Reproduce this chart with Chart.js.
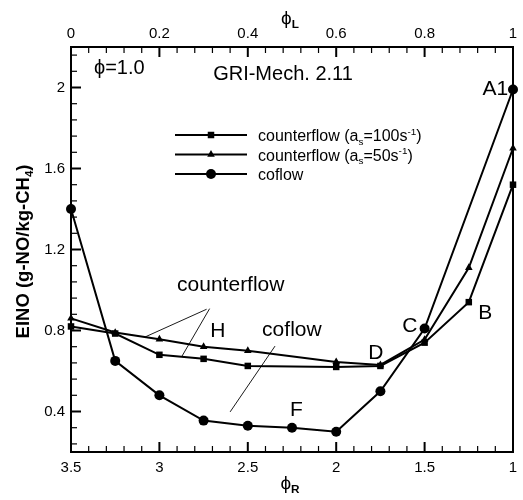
<!DOCTYPE html>
<html>
<head>
<meta charset="utf-8">
<script src="https://cdn.jsdelivr.net/npm/chart.js@4.4.1/dist/chart.umd.min.js"></script>
<style>
  html, body { margin: 0; padding: 0; background: #ffffff; }
  #wrap { width: 523px; height: 500px; }
</style>
</head>
<body>
<div id="wrap"><canvas id="c" width="523" height="500"></canvas></div>
<script>
// ---- data: EINO vs. rich-side equivalence ratio ----
const phiRCoflow      = [3.5, 3.25, 3.0, 2.75, 2.5, 2.25, 2.0, 1.75, 1.5, 1.0];
const einoCoflow      = [1.40, 0.65, 0.48, 0.355, 0.33, 0.32, 0.30, 0.50, 0.81, 1.99];

const phiRCounter     = [3.5, 3.25, 3.0, 2.75, 2.5, 2.0, 1.75, 1.5, 1.25, 1.0];
const einoCounter100  = [0.82, 0.785, 0.68, 0.66, 0.625, 0.62, 0.625, 0.74, 0.94, 1.52];
const einoCounter50   = [0.86, 0.79, 0.757, 0.72, 0.70, 0.645, 0.63, 0.755, 1.11, 1.70];

// ---- axis tick values ----
const phiRTicks = [1, 1.5, 2, 2.5, 3, 3.5];
const phiLTicks = [0, 0.2, 0.4, 0.6, 0.8, 1];
const einoTicks = [0.4, 0.8, 1.2, 1.6, 2];

const FONT = 'Arial, "Liberation Sans", Helvetica, sans-serif';

function pts(xs, ys) { return xs.map((x, i) => ({ x: x, y: ys[i] })); }

// in-plot text labels and leader lines, in data units (phi_R, EINO)
const notes = [
  { text: 'ϕ=1.0',          x: 3.37,  y: 2.069, size: 20 },
  { text: 'GRI-Mech. 2.11', x: 2.696, y: 2.037, size: 20 },
  { text: 'A1',             x: 1.027, y: 1.963, size: 21, align: 'right' },
  { text: 'counterflow',    x: 2.90,  y: 0.997, size: 21 },
  { text: 'H',              x: 2.713, y: 0.768, size: 21 },
  { text: 'coflow',         x: 2.419, y: 0.773, size: 21 },
  { text: 'C',              x: 1.627, y: 0.795, size: 21 },
  { text: 'D',              x: 1.819, y: 0.659, size: 21 },
  { text: 'B',              x: 1.197, y: 0.857, size: 21 },
  { text: 'F',              x: 2.261, y: 0.379, size: 21 }
];
const leaders = [
  [2.733, 0.905, 3.081, 0.768],
  [2.716, 0.908, 2.873, 0.672],
  [2.346, 0.723, 2.600, 0.398]
];

function drawRich(ctx, parts, x, y, size, align, bold) {
  let total = 0;
  parts.forEach(p => {
    const s = p.s ? size * 0.62 : size;
    p._f = ((bold || p.b) ? 'bold ' : '') + s + 'px ' + FONT;
    ctx.font = p._f;
    p._w = ctx.measureText(p.t).width;
    total += p._w;
  });
  let cx = align === 'center' ? x - total / 2 : (align === 'right' ? x - total : x);
  ctx.textAlign = 'left';
  ctx.textBaseline = 'alphabetic';
  parts.forEach(p => {
    ctx.font = p._f;
    let dy = 0;
    if (p.s === 'sub') dy = size * 0.22;
    if (p.s === 'sup') dy = -size * 0.38;
    ctx.fillText(p.t, cx, y + dy);
    cx += p._w;
  });
  return total;
}

function drawMarker(ctx, style, x, y, r) {
  ctx.beginPath();
  if (style === 'circle') {
    ctx.arc(x, y, r, 0, Math.PI * 2);
  } else if (style === 'rect') {
    const h = r * Math.SQRT1_2;
    ctx.rect(x - h, y - h, 2 * h, 2 * h);
  } else {
    const side = r * 3 / Math.sqrt(3);
    const height = side * Math.sqrt(3) / 2;
    ctx.moveTo(x, y - height * 2 / 3);
    ctx.lineTo(x + side / 2, y + height / 3);
    ctx.lineTo(x - side / 2, y + height / 3);
    ctx.closePath();
  }
  ctx.fill();
}

const decor = {
  id: 'decor',
  afterDraw(chart) {
    const ctx = chart.ctx;
    const a = chart.chartArea;
    const sx = chart.scales.x, sx2 = chart.scales.x2, sy = chart.scales.y;
    ctx.save();
    ctx.strokeStyle = '#000';
    ctx.fillStyle = '#000';

    // frame
    ctx.lineWidth = 2;
    ctx.strokeRect(a.left, a.top, a.right - a.left, a.bottom - a.top);

    // inward ticks: major + four minor per interval
    function tickSet(vals) {
      const sorted = vals.slice().sort((p, q) => p - q);
      const minors = [];
      for (let i = 0; i < sorted.length - 1; i++) {
        const st = (sorted[i + 1] - sorted[i]) / 5;
        for (let k = 1; k < 5; k++) minors.push(sorted[i] + k * st);
      }
      return { majors: sorted, minors: minors };
    }
    function hTicks(scale, vals, edge, dir) {
      const t = tickSet(vals);
      ctx.lineWidth = 1.2;
      t.minors.forEach(v => {
        const p = scale.getPixelForValue(v);
        if (p < a.left + 1 || p > a.right - 1) return;
        ctx.beginPath(); ctx.moveTo(p, edge); ctx.lineTo(p, edge + dir * 6); ctx.stroke();
      });
      ctx.lineWidth = 2;
      t.majors.forEach(v => {
        const p = scale.getPixelForValue(v);
        if (p < a.left + 1 || p > a.right - 1) return;
        ctx.beginPath(); ctx.moveTo(p, edge); ctx.lineTo(p, edge + dir * 10); ctx.stroke();
      });
    }
    hTicks(sx, phiRTicks, a.bottom, -1);
    hTicks(sx2, phiLTicks, a.top, 1);

    // y ticks, extended a step beyond the labelled range
    const yAll = [0.24, 0.32].concat(tickSet(einoTicks).minors, [2.08, 2.16]);
    ctx.lineWidth = 1.2;
    yAll.forEach(v => {
      const p = sy.getPixelForValue(v);
      ctx.beginPath(); ctx.moveTo(a.left, p); ctx.lineTo(a.left + 6, p); ctx.stroke();
    });
    ctx.lineWidth = 2;
    einoTicks.forEach(v => {
      const p = sy.getPixelForValue(v);
      ctx.beginPath(); ctx.moveTo(a.left, p); ctx.lineTo(a.left + 10, p); ctx.stroke();
    });

    // leader lines
    ctx.lineWidth = 0.9;
    leaders.forEach(l => {
      ctx.beginPath();
      ctx.moveTo(sx.getPixelForValue(l[0]), sy.getPixelForValue(l[1]));
      ctx.lineTo(sx.getPixelForValue(l[2]), sy.getPixelForValue(l[3]));
      ctx.stroke();
    });

    // text labels
    notes.forEach(n => {
      drawRich(ctx, [{ t: n.text }], sx.getPixelForValue(n.x), sy.getPixelForValue(n.y), n.size, n.align || 'left');
    });

    // legend
    const lg = [
      { style: 'rect', r: 4.6, parts: [{ t: 'counterflow (a' }, { t: 's', s: 'sub' }, { t: '=100s' }, { t: '-1', s: 'sup' }, { t: ')' }] },
      { style: 'triangle', r: 4.4, parts: [{ t: 'counterflow (a' }, { t: 's', s: 'sub' }, { t: '=50s' }, { t: '-1', s: 'sup' }, { t: ')' }] },
      { style: 'circle', r: 5, parts: [{ t: 'coflow' }] }
    ];
    const lx0 = a.left + 104, lx1 = a.left + 176, ty = [135, 154.5, 174];
    lg.forEach((e, i) => {
      const y = ty[i];
      ctx.lineWidth = 2;
      ctx.beginPath(); ctx.moveTo(lx0, y); ctx.lineTo(lx1, y); ctx.stroke();
      drawMarker(ctx, e.style, (lx0 + lx1) / 2, y, e.r);
      drawRich(ctx, e.parts, a.left + 187, y + 6, 16, 'left');
    });

    // axis titles
    const cx = (a.left + a.right) / 2 - 2;
    drawRich(ctx, [{ t: 'ϕ' }, { t: 'L', s: 'sub', b: true }], cx, 24, 19, 'center');
    drawRich(ctx, [{ t: 'ϕ' }, { t: 'R', s: 'sub', b: true }], cx, 489, 19, 'center');
    ctx.save();
    ctx.translate(22, (a.top + a.bottom) / 2 + 2);
    ctx.rotate(-Math.PI / 2);
    drawRich(ctx, [{ t: 'EINO (g-NO/kg-CH' }, { t: '4', s: 'sub' }, { t: ')' }], 0, 6.5, 18.5, 'center', true);
    ctx.restore();

    ctx.restore();
  }
};

const tickFont = { family: FONT, size: 15 };
const plainLabel = v => String(Math.round(v * 1000) / 1000);
function fixedTicks(vals) {
  return function (scale) { scale.ticks = vals.map(v => ({ value: v })); };
}

new Chart(document.getElementById('c'), {
  type: 'line',
  data: {
    datasets: [
      {
        label: 'counterflow (as=100s-1)',
        data: pts(phiRCounter, einoCounter100),
        pointStyle: 'rect', pointRadius: 4.6
      },
      {
        label: 'counterflow (as=50s-1)',
        data: pts(phiRCounter, einoCounter50),
        pointStyle: 'triangle', pointRadius: 4.4
      },
      {
        label: 'coflow',
        data: pts(phiRCoflow, einoCoflow),
        pointStyle: 'circle', pointRadius: 5
      }
    ].map(d => Object.assign({
      borderColor: '#000', backgroundColor: '#000',
      pointBackgroundColor: '#000', pointBorderColor: '#000', pointBorderWidth: 0,
      borderWidth: 2, tension: 0, clip: false, fill: false
    }, d))
  },
  options: {
    responsive: false,
    animation: false,
    devicePixelRatio: 1,
    layout: { padding: { left: 0, right: 10, top: 0, bottom: 0 } },
    plugins: { legend: { display: false }, tooltip: { enabled: false } },
    scales: {
      x: {
        type: 'linear', position: 'bottom', reverse: true, min: 1, max: 3.5,
        afterBuildTicks: fixedTicks(phiRTicks),
        afterFit(s) { s.height = 48; },
        grid: { display: false, drawTicks: false }, border: { display: false },
        ticks: { font: tickFont, color: '#000', padding: 7, maxRotation: 0, callback: plainLabel }
      },
      x2: {
        type: 'linear', position: 'top', min: 0, max: 1,
        afterBuildTicks: fixedTicks(phiLTicks),
        afterFit(s) { s.height = 47; },
        grid: { display: false, drawTicks: false }, border: { display: false },
        ticks: { font: tickFont, color: '#000', padding: 4, maxRotation: 0, callback: plainLabel }
      },
      y: {
        type: 'linear', position: 'left', min: 0.2, max: 2.2,
        afterBuildTicks: fixedTicks(einoTicks),
        afterFit(s) { s.width = 71; },
        grid: { display: false, drawTicks: false }, border: { display: false },
        ticks: { font: tickFont, color: '#000', padding: 6, callback: plainLabel }
      }
    }
  },
  plugins: [decor]
});
</script>
</body>
</html>
